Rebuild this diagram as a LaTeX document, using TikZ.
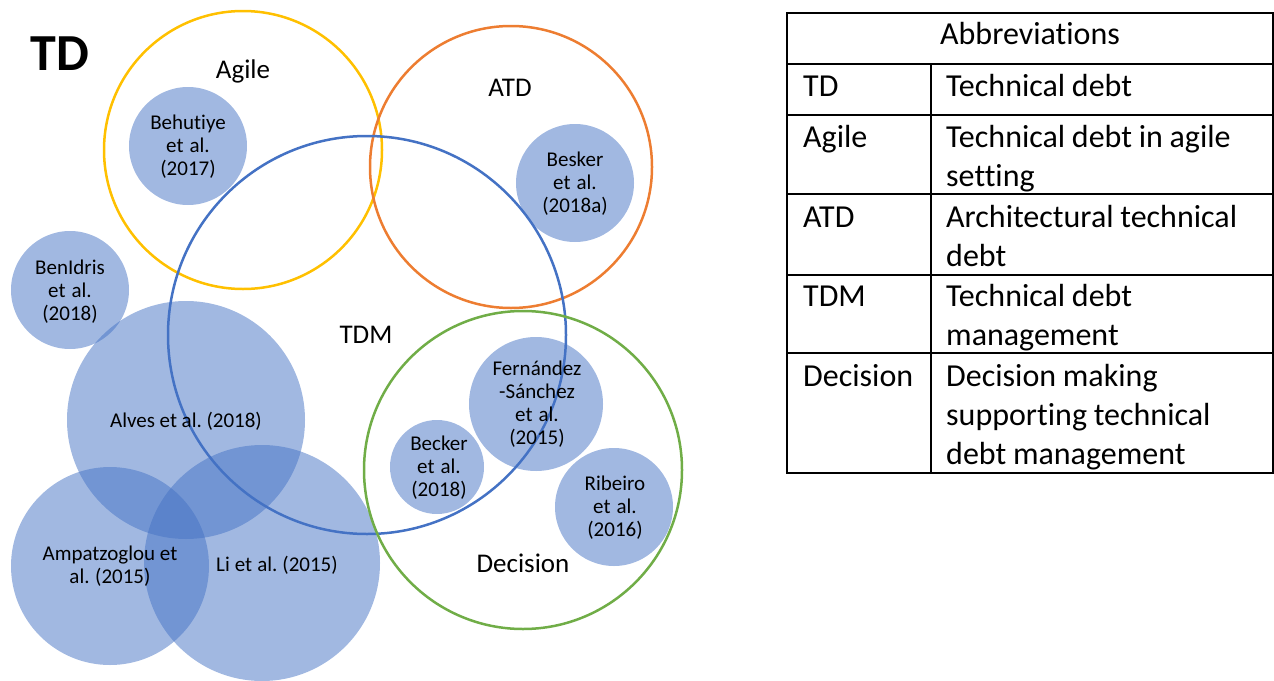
\documentclass[tikz,border=0pt]{standalone}
\usepackage{fontspec}
\setmainfont{Carlito}[Ligatures=NoCommon]
\frenchspacing
\definecolor{agileyellow}{HTML}{FFC000}
\definecolor{atdorange}{HTML}{ED7D31}
\definecolor{tdmblue}{HTML}{4472C4}
\definecolor{decgreen}{HTML}{70AD47}
\newcommand{\tightspace}{\spaceskip=0.21em plus 0.05em\relax}
\tikzset{
  bubble/.style={circle, draw=none, fill=tdmblue, fill opacity=0.5, inner sep=0pt, minimum size=#1},
  area/.style={circle, draw=#1, line width=2.5pt, fill=none, inner sep=0pt},
  cite/.style={font=\fontsize{21}{23}\selectfont, align=center, text width=170pt, inner sep=0pt, anchor=base, execute at begin node=\tightspace},
  arealabel/.style={font=\fontsize{27}{32}\selectfont, inner sep=0pt, anchor=base},
  cellkey/.style={font=\fontsize{32}{39}\selectfont, align=left, text width=125pt, inner sep=0pt, anchor=base west},
  cellval/.style={font=\fontsize{32}{39}\selectfont, align=left, text width=320pt, inner sep=0pt, anchor=base west, execute at begin node=\tightspace},
  rule/.style={line width=1.4pt}
}
\begin{document}
\begin{tikzpicture}[x=1pt,y=-1pt]
\useasboundingbox (0,0) rectangle (1274,680);

% publication bubbles
\node[bubble=118pt] (behutiye) at (188,146) {};
\node[bubble=118pt] (besker)   at (575,183) {};
\node[bubble=118pt] (benidris) at (70,290) {};
\node[bubble=238pt] (alves)    at (186,420) {};
\node[bubble=198pt] (ampatz)   at (110,566) {};
\node[bubble=236pt] (li)       at (262,563) {};
\node[bubble=94pt]  (becker)   at (437,467) {};
\node[bubble=134pt] (fernandez) at (536,404) {};
\node[bubble=118pt] (ribeiro)  at (614,507) {};

% research areas
\node[area=agileyellow, minimum size=278pt] (agile) at (243,150) {};
\node[area=atdorange,   minimum size=282pt] (atd)   at (511,167) {};
\node[area=tdmblue,     minimum size=398pt] (tdm)   at (367,335) {};
\node[area=decgreen,    minimum size=318pt] (decision) at (523,470) {};

% area labels
\node[font=\fontsize{52}{60}\selectfont\bfseries, inner sep=0pt, anchor=base] (tdtitle) at (60,70) {TD};
\node[arealabel] (agilelbl) at (243,78) {Agile};
\node[arealabel] (atdlbl) at (510,96) {ATD};
\node[arealabel] (tdmlbl) at (366,343) {TDM};
\node[arealabel] (declbl) at (523,572) {Decision};

% bubble texts
\node[cite] (behutiyetxt) at (188,129) {Behutiye\\et al.\\(2017)};
\node[cite] (beskertxt) at (575,166) {Besker\\et al.\\(2018a)};
\node[cite] (benidristxt) at (70,274) {BenIdris\\et al.\\(2018)};
\node[cite] (alvestxt) at (186,427) {Alves et al. (2018)};
\node[cite] (ampatztxt) at (110,560) {Ampatzoglou et\\al. (2015)};
\node[cite] (litxt) at (277,571) {Li et al. (2015)};
\node[cite] (fernandeztxt) at (537,375) {Fernández\\-Sánchez\\et al.\\(2015)};
\node[cite] (beckertxt) at (439,450) {Becker\\et al.\\(2018)};
\node[cite] (ribeirotxt) at (615,490) {Ribeiro\\et al.\\(2016)};

% abbreviations table
\draw[rule] (787,13) rectangle (1273,473);
\foreach \yy in {64,115,194,275,353} \draw[rule] (787,\yy) -- (1273,\yy);
\draw[rule] (931,64) -- (931,473);
\node[font=\fontsize{32}{39}\selectfont, inner sep=0pt, anchor=base] (abbrhead) at (1030,44) {Abbreviations};
\node[cellkey] (k1) at (803,96)  {TD};
\node[cellval] (v1) at (946,96)  {Technical debt};
\node[cellkey] (k2) at (803,147) {Agile};
\node[cellval] (v2) at (946,147) {Technical debt in agile\\setting};
\node[cellkey] (k3) at (803,227) {ATD};
\node[cellval] (v3) at (946,227) {Architectural technical\\debt};
\node[cellkey] (k4) at (803,306) {TDM};
\node[cellval] (v4) at (946,306) {Technical debt\\management};
\node[cellkey] (k5) at (803,386) {Decision};
\node[cellval] (v5) at (946,386) {Decision making\\supporting technical\\debt management};
\end{tikzpicture}
\end{document}
